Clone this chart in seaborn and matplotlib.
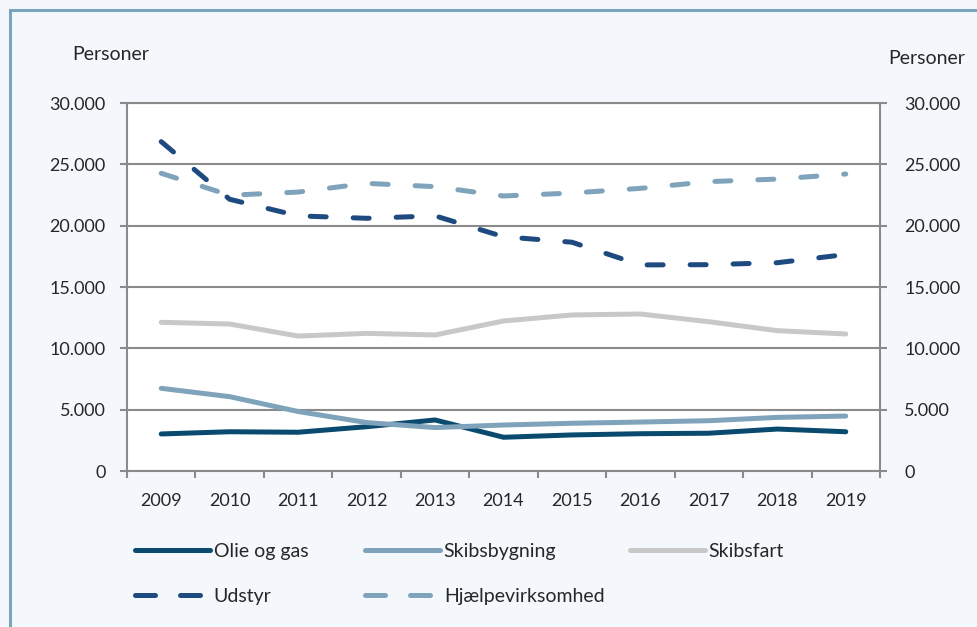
import matplotlib
matplotlib.use("Agg")
import matplotlib.pyplot as plt
from matplotlib.lines import Line2D
from matplotlib.patches import Rectangle
import seaborn as sns
import pandas as pd

years = ["2009", "2010", "2011", "2012", "2013", "2014", "2015", "2016", "2017", "2018", "2019"]
olie_og_gas = [3020, 3200, 3160, 3610, 4160, 2750, 2940, 3040, 3080, 3420, 3200]
skibsbygning = [6740, 6060, 4850, 3950, 3540, 3750, 3890, 3990, 4100, 4370, 4480]
skibsfart = [12120, 11980, 11000, 11220, 11090, 12230, 12720, 12800, 12170, 11440, 11170]
udstyr = [26850, 22150, 20800, 20600, 20800, 19100, 18650, 16800, 16820, 16980, 17650]
hjaelp = [24270, 22480, 22740, 23450, 23180, 22420, 22660, 23040, 23590, 23800, 24210]

series_names = ["Olie og gas", "Skibsbygning", "Skibsfart", "Udstyr", "Hjælpevirksomhed"]
series_values = [olie_og_gas, skibsbygning, skibsfart, udstyr, hjaelp]
colors = ["#0A4A6E", "#7EA3BA", "#C8C8C8", "#1F4A80", "#7EA3BA"]
dashed = [False, False, False, True, True]

sns.set_theme(style="white")
plt.rcParams["font.family"] = ["Lato", "DejaVu Sans"]
TXT = "#262626"
GRID = "#8A8A8A"
BG = "#F4F8FC"
FS = 13
FS_TXT = 14

fig = plt.figure(figsize=(9.77, 6.27), dpi=100)
fig.patch.set_facecolor(BG)
# frame border (top and left)
fig.add_artist(Rectangle((10 / 977, -0.1), 1.2, 1.1 - 10 / 627, transform=fig.transFigure,
                         facecolor="none", edgecolor="#7BA3BE", linewidth=2.2, zorder=0))

ax = fig.add_axes([127 / 977, (627 - 471) / 627, (880 - 127) / 977, (471 - 103) / 627])
ax.set_facecolor("white")

rows = []
for name, vals in zip(series_names, series_values):
    for i, v in enumerate(vals):
        rows.append({"serie": name, "idx": i, "value": v})
df = pd.DataFrame(rows)

lw = 3.6
for name, col, dsh in zip(series_names, colors, dashed):
    sub = df[df["serie"] == name]
    sns.lineplot(data=sub, x="idx", y="value", ax=ax, color=col, linewidth=lw, legend=False)
    ln = ax.lines[-1]
    ln.set_solid_capstyle("round")
    ln.set_solid_joinstyle("round")
    ln.set_zorder(3)
    if dsh:
        ln.set_dashes((3.2, 5.4))
        ln.set_dash_capstyle("round")

yt = list(range(0, 30001, 5000))
ylabels = ["0" if v == 0 else f"{v // 1000}.000" for v in yt]

ax.set_xlim(-0.5, 10.5)
ax.set_ylim(0, 30000)
ax.set_yticks(yt)
ax.set_yticklabels(ylabels)
ax.set_xticks(range(len(years)))
ax.set_xticklabels(years)
ax.set_xticks([i - 0.5 for i in range(len(years) + 1)], minor=True)
ax.set_xlabel("")
ax.set_ylabel("")

ax.grid(axis="y", color=GRID, linewidth=1.5, zorder=1)
ax.grid(axis="x", visible=False)
for s in ["left", "right", "bottom", "top"]:
    ax.spines[s].set_visible(True)
    ax.spines[s].set_color(GRID)
    ax.spines[s].set_linewidth(1.5)
    ax.spines[s].set_zorder(1)

ax.tick_params(axis="y", which="major", left=True, right=False, labelleft=True, labelright=False,
               length=5, width=1.5, color=GRID, direction="out", pad=10.5,
               labelsize=FS, labelcolor=TXT)
ax.tick_params(axis="x", which="major", length=0, pad=16, labelsize=FS, labelcolor=TXT)
ax.tick_params(axis="x", which="minor", bottom=True, length=5, width=1.5, color=GRID, direction="out")

ax2 = ax.twinx()
ax2.set_ylim(0, 30000)
ax2.set_yticks(yt)
ax2.set_yticklabels(ylabels)
for s in ax2.spines.values():
    s.set_visible(False)
ax2.grid(False)
ax2.tick_params(axis="y", right=True, labelright=True, length=5, width=1.5, color=GRID,
                direction="out", pad=12.5, labelsize=FS, labelcolor=TXT)

fig.text(111 / 977, 1 - 55 / 627, "Personer", ha="center", va="center", fontsize=FS_TXT, color=TXT)
fig.text(927 / 977, 1 - 58 / 627, "Personer", ha="center", va="center", fontsize=FS_TXT, color=TXT)

def handle(i):
    h = Line2D([0], [0], color=colors[i], linewidth=lw, solid_capstyle="round")
    if dashed[i]:
        h.set_dashes((4.0, 5.0))
        h.set_dash_capstyle("round")
    return h

legend_cols = [([0, 3], 135), ([1, 4], 365), ([2], 630)]
for idxs, xpix in legend_cols:
    leg = fig.legend([handle(i) for i in idxs], [series_names[i] for i in idxs],
                     loc="upper left", bbox_to_anchor=(xpix / 977, 1 - 543 / 627),
                     frameon=False, fontsize=FS_TXT, handlelength=3.85, handletextpad=0.2,
                     labelspacing=1.45, borderaxespad=0, borderpad=0)
    for t in leg.get_texts():
        t.set_color(TXT)

fig.savefig("out.png", dpi=100, facecolor=BG)
